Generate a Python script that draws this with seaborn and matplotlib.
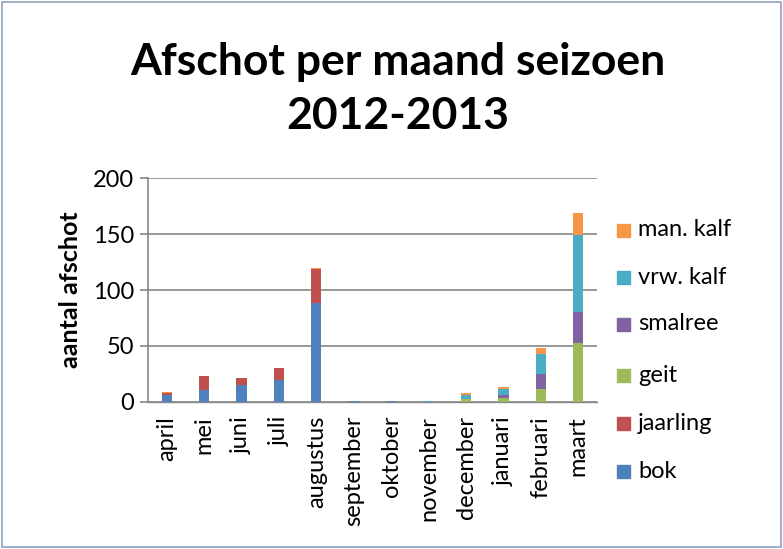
import matplotlib
matplotlib.use("Agg")
import matplotlib.pyplot as plt
import seaborn as sns
import numpy as np
from matplotlib.patches import Rectangle

months = ["april", "mei", "juni", "juli", "augustus", "september", "oktober",
          "november", "december", "januari", "februari", "maart"]
bok      = [6, 11, 15, 20, 88, 1, 1, 0, 0, 0, 0, 0]
jaarling = [2, 12, 6, 10, 31, 0, 0, 0, 0, 0, 0, 0]
geit     = [0, 0, 0, 0, 0, 0, 0, 0, 3, 4, 12, 53]
smalree  = [0, 0, 0, 0, 0, 0, 0, 0, 0, 2, 13, 27]
vrw_kalf = [0, 0, 0, 0, 0, 0, 0, 1, 3, 6, 18, 69]
man_kalf = [1, 0, 0, 0, 1, 0, 0, 0, 2, 1, 5, 20]

series = [("bok", bok, "#4F81BD"), ("jaarling", jaarling, "#C0504D"),
          ("geit", geit, "#9BBB59"), ("smalree", smalree, "#8064A2"),
          ("vrw. kalf", vrw_kalf, "#4BACC6"), ("man. kalf", man_kalf, "#F79646")]

sns.set_theme(style="white")
plt.rcParams["font.family"] = ["Lato", "DejaVu Sans"]
plt.rcParams["text.color"] = "black"
plt.rcParams["xtick.color"] = "black"
plt.rcParams["ytick.color"] = "black"
plt.rcParams["axes.labelcolor"] = "black"

fig = plt.figure(figsize=(7.83, 5.49), dpi=100)
ax = fig.add_axes([148/783, 1-402/549, (597-148)/783, (402-178)/549])

bottom = np.zeros(len(months))
for name, vals, col in series:
    sns.barplot(x=months, y=vals, bottom=bottom, color=col, width=0.27,
                ax=ax, saturation=1, linewidth=0, zorder=3)
    bottom = bottom + np.array(vals)

ax.set_ylim(0, 200)
ax.set_yticks([0, 50, 100, 150, 200])
ax.set_xlim(-0.5, len(months)-0.5)
ax.yaxis.grid(True, color="#868686", linewidth=1.2)
ax.set_axisbelow(True)
for s in ["top", "right"]:
    ax.spines[s].set_visible(False)
ax.spines["left"].set_color("#868686")
ax.spines["bottom"].set_color("#868686")
ax.spines["left"].set_linewidth(1.2)
ax.spines["bottom"].set_linewidth(1.0)
ax.spines["bottom"].set_zorder(2)
ax.tick_params(axis="y", left=True, length=6, color="#868686", width=1.2,
               labelsize=17, pad=4, labelcolor="black")
ax.tick_params(axis="x", bottom=False, labelsize=17, labelrotation=90, pad=4,
               labelcolor="black")
ax.set_ylabel("aantal afschot", fontsize=18, fontweight="bold", labelpad=8)
ax.set_xlabel("")

fig.text(398/783, 1-62/549, "Afschot per maand seizoen", ha="center", va="center",
         fontsize=32, fontweight="bold")
fig.text(398/783, 1-116/549, "2012-2013", ha="center", va="center",
         fontsize=32, fontweight="bold")

# legend
leg_y = [230, 277, 324, 375, 423, 471]
for (name, vals, col), y in zip(series[::-1], leg_y):
    fig.patches.append(Rectangle((617/783, 1-(y+6.5)/549), 13/783, 13/549,
                                 transform=fig.transFigure, color=col))
    fig.text(638/783, 1-y/549, name, ha="left", va="center", fontsize=17)

fig.patches.append(Rectangle((2/783, 2/549), 779/783, 545/549, transform=fig.transFigure,
                             fill=False, edgecolor="#8EA2BD", linewidth=1.2))

fig.savefig("out.png", dpi=100)
